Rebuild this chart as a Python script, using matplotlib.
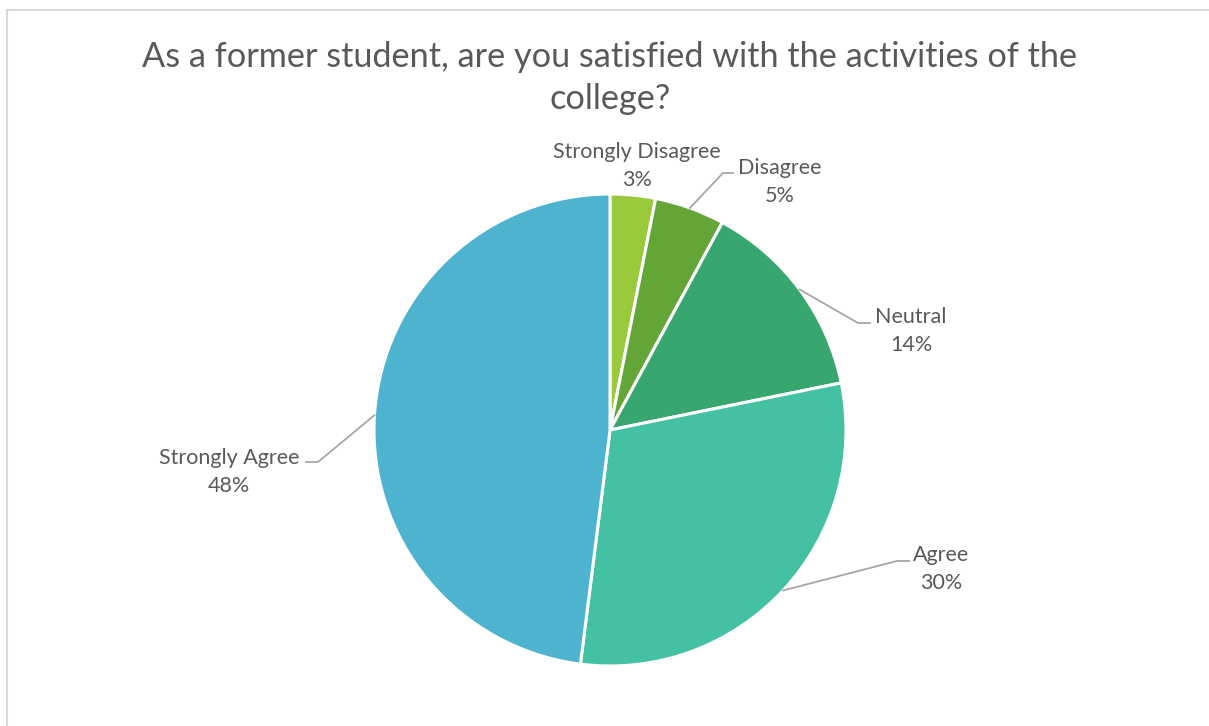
import numpy as np
import matplotlib
matplotlib.use('Agg')
import matplotlib.pyplot as plt
from matplotlib.patches import Rectangle

# survey answers, clockwise from the top
categories = ["Strongly Disagree", "Disagree", "Neutral", "Agree", "Strongly Agree"]
shares = [3.1, 4.8, 13.9, 30.2, 48.0]
pct_labels = ["3%", "5%", "14%", "30%", "48%"]
colors = ["#9ACA3C", "#63A537", "#37A76F", "#44C1A3", "#4EB3CF"]

# label layout in pixel coords (x, y from top): text centre, elbow, line end
label_pos = [(637, 166), (780, 182), (911, 331), (941, 569), (229, 472)]
elbows = [None, (723, 173), (858, 323), (897, 561), (318, 462)]
line_ends = [None, (733, 173), (870, 323), (909, 561), (306, 462)]

W, H = 1209, 726
plt.rcParams['font.family'] = ['Lato', 'DejaVu Sans']
text_color = "#595959"

fig = plt.figure(figsize=(W / 100, H / 100), dpi=100)
ax = fig.add_axes([0, 0, 1, 1])

# chart frame
fig.patches.append(Rectangle((7 / W, -0.1), 1.2, (H - 10) / H + 0.1,
                             transform=fig.transFigure, fill=False,
                             edgecolor="#D9D9D9", linewidth=1.5))

cx, cy, r = 610, H - 430, 236
wedges, _ = ax.pie(shares, colors=colors, startangle=90, counterclock=False,
                   center=(cx, cy), radius=r, frame=True,
                   wedgeprops=dict(edgecolor="white", linewidth=2.2))
ax.set_xlim(0, W)
ax.set_ylim(0, H)
ax.axis('off')

for i, w in enumerate(wedges):
    mid = np.deg2rad((w.theta1 + w.theta2) / 2)
    tx, ty = label_pos[i]
    ax.text(tx, H - ty, categories[i] + "\n" + pct_labels[i], ha='center', va='center',
            fontsize=15.5, color=text_color, linespacing=1.55)
    if elbows[i] is not None:
        sx, sy = cx + r * np.cos(mid), cy + r * np.sin(mid)
        ex, ey = elbows[i]
        lx, ly = line_ends[i]
        ax.plot([sx, ex, lx], [sy, H - ey, H - ly], color="#A6A6A6", linewidth=1.3)

ax.text(610, H - 78, "As a former student, are you satisfied with the activities of the\ncollege?",
        ha='center', va='center', fontsize=24.7, color=text_color, linespacing=1.4)

fig.savefig("out.png", dpi=100)
